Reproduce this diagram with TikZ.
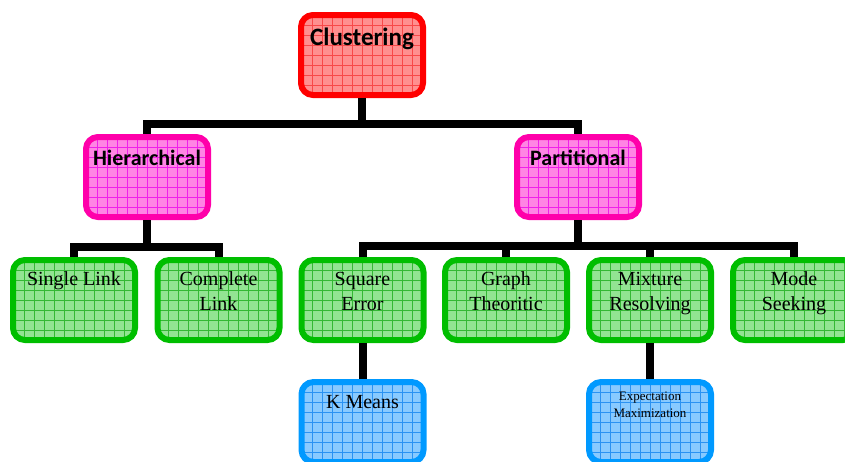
\documentclass[tikz,border=0pt]{standalone}
\usepackage{fontspec}
\setmainfont{Liberation Serif}
\newfontfamily\hfont{Carlito}
\definecolor{redB}{HTML}{FF0000}
\definecolor{redF}{HTML}{FF8F8F}
\definecolor{redG}{HTML}{F84848}
\definecolor{magB}{HTML}{FF00AA}
\definecolor{magF}{HTML}{FF85E4}
\definecolor{magG}{HTML}{F020EA}
\definecolor{grnB}{HTML}{00BE00}
\definecolor{grnF}{HTML}{92E492}
\definecolor{grnG}{HTML}{34B834}
\definecolor{bluB}{HTML}{0099FF}
\definecolor{bluF}{HTML}{88CAFF}
\definecolor{bluG}{HTML}{2A92F2}
\tikzset{
  box/.style n args={3}{draw=#1, fill=#2, rounded corners=12pt, line width=6pt,
    minimum width=122pt, minimum height=80pt, inner sep=0pt,
    path picture={\draw[draw=#3, line width=0.6pt, step=10pt]
      ([shift={(-10pt,-10pt)}]path picture bounding box.south west) grid
      ([shift={(10pt,10pt)}]path picture bounding box.north east);}},
  redbox/.style={box={redB}{redF}{redG}},
  magbox/.style={box={magB}{magF}{magG}},
  grnbox/.style={box={grnB}{grnF}{grnG}},
  blubox/.style={box={bluB}{bluF}{bluG}},
  conn/.style={draw=black, line width=8pt, line join=miter},
  toplbl/.style={anchor=base, inner sep=0pt, font=\hfont\bfseries\fontsize{25}{30}\selectfont},
  midlbl/.style={anchor=base, inner sep=0pt, font=\hfont\bfseries\fontsize{22}{26}\selectfont},
  lowlbl/.style={anchor=base, inner sep=0pt, font=\fontsize{20}{25}\selectfont},
  smalllbl/.style={anchor=base, inner sep=0pt, font=\fontsize{13}{17}\selectfont},
}
\begin{document}
\begin{tikzpicture}[x=1pt, y=-1pt]
\useasboundingbox (0,0) rectangle (845,461);
% boxes
\node[redbox] (clu) at (362,55) {};
\node[magbox] (hier) at (147,177) {};
\node[magbox] (part) at (578,177) {};
\node[grnbox] (sl) at (74,300) {};
\node[grnbox] (cl) at (218.5,300) {};
\node[grnbox] (sq) at (362.5,300) {};
\node[grnbox] (gt) at (506,300) {};
\node[grnbox] (mr) at (650,300) {};
\node[grnbox] (ms) at (794,300) {};
\node[blubox] (km) at (362.5,422) {};
\node[blubox] (em) at (650,422) {};
% connectors
\draw[conn] (clu.south) -- ++(0,26) -| (hier.north);
\draw[conn] (clu.south) -- ++(0,26) -| (part.north);
\draw[conn] (hier.south) -- ++(0,27) -| (sl.north);
\draw[conn] (hier.south) -- ++(0,27) -| (cl.north);
\draw[conn] (part.south) -- ++(0,26) -| (sq.north);
\draw[conn] (part.south) -- ++(0,26) -| (gt.north);
\draw[conn] (part.south) -- ++(0,26) -| (mr.north);
\draw[conn] (part.south) -- ++(0,26) -| (ms.north);
\draw[conn] (sq.south) -- (km.north);
\draw[conn] (mr.south) -- (em.north);
% labels
\node[toplbl] (tclu) at ([yshift=-33pt]clu.north) {Clustering};
\node[midlbl] (thier) at ([yshift=-31pt]hier.north) {Hierarchical};
\node[midlbl] (tpart) at ([yshift=-31pt]part.north) {Partitional};
\node[lowlbl] (tsl) at ([yshift=-28pt]sl.north) {Single Link};
\node[lowlbl] (tcl) at ([yshift=-28pt]cl.north) {\begin{tabular}[t]{@{}c@{}}Complete\\Link\end{tabular}};
\node[lowlbl] (tsq) at ([yshift=-28pt]sq.north) {\begin{tabular}[t]{@{}c@{}}Square\\Error\end{tabular}};
\node[lowlbl] (tgt) at ([yshift=-28pt]gt.north) {\begin{tabular}[t]{@{}c@{}}Graph\\Theoritic\end{tabular}};
\node[lowlbl] (tmr) at ([yshift=-28pt]mr.north) {\begin{tabular}[t]{@{}c@{}}Mixture\\Resolving\end{tabular}};
\node[lowlbl] (tms) at ([yshift=-28pt]ms.north) {\begin{tabular}[t]{@{}c@{}}Mode\\Seeking\end{tabular}};
\node[lowlbl] (tkm) at ([yshift=-29pt]km.north) {K Means};
\node[smalllbl] (tem) at ([yshift=-21pt]em.north) {\begin{tabular}[t]{@{}c@{}}Expectation\\Maximization\end{tabular}};
\end{tikzpicture}
\end{document}
